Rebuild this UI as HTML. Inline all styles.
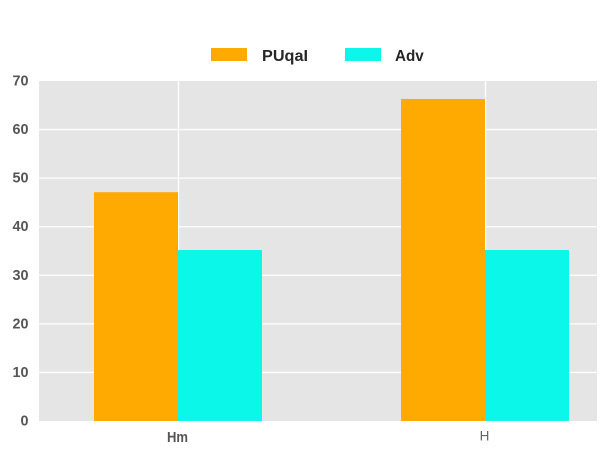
<!DOCTYPE html>
<html lang="en">
<head>
<meta charset="utf-8">
<title>Bar chart</title>
<style>
html,body{margin:0;padding:0;background:#fff;width:608px;height:456px;overflow:hidden}
svg{display:block}
text{font-family:"Liberation Sans",sans-serif}
</style>
</head>
<body>
<svg id="chart" width="608" height="456" viewBox="0 0 608 456" xmlns="http://www.w3.org/2000/svg"></svg>
<script>
const categories = ['Hm', 'H'];
const categoryWeights = ['bold', 'normal'];
const seriesNames = ['PUqaI', 'Adv'];
const puqalValues = [47.1, 66.3];
const advValues = [35.2, 35.2];
const yTicks = [0, 10, 20, 30, 40, 50, 60, 70];

const svg = document.getElementById('chart');
const NS = 'http://www.w3.org/2000/svg';
const plot = { left: 39, right: 597, top: 81, bottom: 421 };
const yMax = 70;
const groupFirst = 178.5;
const groupStep = 307;
const barWidth = 84;
const seriesColors = ['#ffaa00', '#0bf7e9'];

function yScale(v) { return plot.bottom - (v / yMax) * (plot.bottom - plot.top); }
function xScale(i) { return groupFirst + i * groupStep; }
function make(tag, attrs, parent) {
  const el = document.createElementNS(NS, tag);
  for (const k in attrs) el.setAttribute(k, attrs[k]);
  (parent || svg).appendChild(el);
  return el;
}

const bg = make('rect', { x: plot.left, y: plot.top, width: plot.right - plot.left, height: plot.bottom - plot.top, fill: '#e5e5e5' });



yTicks.forEach(function (t) {
  const y = yScale(t);
  if (t !== 0 && t !== yMax) {
    const g = make('line', { x1: plot.left, x2: plot.right, y1: y, y2: y, stroke: '#fff', 'stroke-width': 1.3 });
    
    
  }
  const label = String(t);
  const lab = make('text', { x: 28.5, y: y + 4.5, 'text-anchor': 'end', 'font-size': 15, 'font-weight': 'bold', fill: '#555', textLength: label.length * 8, lengthAdjust: 'spacingAndGlyphs' });
  lab.textContent = label;
  
  
});

categories.forEach(function (c, i) {
  const x = xScale(i);
  const g = make('line', { x1: x, x2: x, y1: plot.top, y2: plot.bottom, stroke: '#fff', 'stroke-width': 1.3 });
  
  
});

[puqalValues, advValues].forEach(function (values, s) {
  values.forEach(function (v, i) {
    const x = xScale(i) - 0.5 + (s === 0 ? -barWidth : 0);
    const y = yScale(v);
    const r = make('rect', { x: x, y: y, width: barWidth, height: plot.bottom - y, fill: seriesColors[s] });
    
    
  });
});

categories.forEach(function (c, i) {
  const bold = categoryWeights[i] === 'bold';
  const lab = make('text', { x: xScale(i) - 1, y: bold ? 442 : 440.5, 'text-anchor': 'middle', 'font-size': bold ? 14.5 : 13.5, 'font-weight': categoryWeights[i], fill: bold ? '#555' : '#666' });
  if (bold) {
    lab.setAttribute('textLength', c.length * 10.5);
    lab.setAttribute('lengthAdjust', 'spacingAndGlyphs');
  }
  lab.textContent = c;
  
  
});

const legendSwatchX = [211, 345];
const legendTextX = [262, 395];
seriesNames.forEach(function (n, s) {
  const sw = make('rect', { x: legendSwatchX[s], y: 48, width: 36, height: 13, fill: seriesColors[s] });
  
  
  const lab = make('text', { x: legendTextX[s], y: 61, 'font-size': 15.5, 'font-weight': 'bold', fill: '#262626', textLength: n.length * (s === 0 ? 9.2 : 9.6), lengthAdjust: 'spacingAndGlyphs' });
  lab.textContent = n;
  
  
});
</script>
</body>
</html>
